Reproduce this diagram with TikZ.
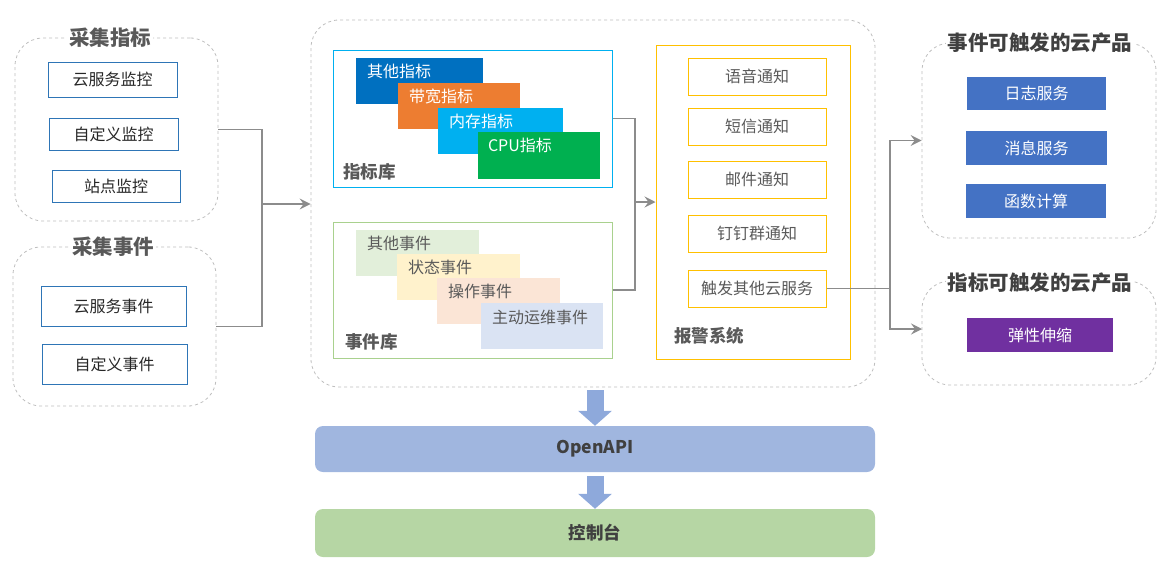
\documentclass[tikz,border=0pt]{standalone}
\usepackage{fontspec}
\setmainfont{Noto Sans CJK SC}
\usetikzlibrary{arrows.meta}
\definecolor{pgray}{HTML}{BFBFBF}
\definecolor{cgray}{HTML}{8C8C8C}
\definecolor{tgray}{HTML}{595959}
\definecolor{tdark}{HTML}{404040}
\definecolor{bblue}{HTML}{2E75B6}
\definecolor{cdblue}{HTML}{0070C0}
\definecolor{corange}{HTML}{ED7D31}
\definecolor{ccyan}{HTML}{00B0F0}
\definecolor{cgreen}{HTML}{00B050}
\definecolor{lgreen}{HTML}{A9D18E}
\definecolor{e1}{HTML}{E2EFDA}
\definecolor{e2}{HTML}{FFF2CC}
\definecolor{e3}{HTML}{FBE5D6}
\definecolor{e4}{HTML}{DAE3F3}
\definecolor{cyell}{HTML}{FFC000}
\definecolor{pblue}{HTML}{4472C4}
\definecolor{ppurp}{HTML}{7030A0}
\definecolor{apiblue}{HTML}{A0B6DF}
\definecolor{congreen}{HTML}{B6D6A4}
\definecolor{fatblue}{HTML}{8EA9DB}
\begin{document}
\begin{tikzpicture}[x=1pt,y=-1pt,
  panel/.style={draw=pgray, dashed, line width=0.8pt, rounded corners=28pt, inner sep=0pt},
  ptitle/.style={fill=white, inner sep=2pt, font=\bfseries\fontsize{20.5}{22}\selectfont, text=tgray},
  rtitle/.style={fill=white, inner sep=2pt, font=\bfseries\fontsize{20.5}{22}\selectfont, text=tdark},
  srcbox/.style={draw=bblue, line width=1pt, inner sep=0pt, font=\fontsize{16}{18}\selectfont, text=black!85},
  libbox/.style={line width=1pt, inner sep=0pt},
  layer/.style={inner sep=0pt},
  lyrtxt/.style={anchor=west, inner sep=0pt, font=\fontsize{16}{18}\selectfont},
  liblabel/.style={anchor=west, inner sep=0pt, font=\bfseries\fontsize{17.5}{19}\selectfont, text=tgray},
  notebox/.style={draw=cyell, line width=1pt, inner sep=0pt, minimum width=138, minimum height=37, font=\fontsize{16}{18}\selectfont, text=tgray},
  prodbox/.style={inner sep=0pt, font=\fontsize{16}{18}\selectfont, text=white},
  conn/.style={draw=cgray, line width=1.3pt},
  arr/.style={conn, -{Stealth[length=11pt,width=11pt,inset=4pt]}},
  fatarrow/.style={draw=fatblue, line width=17pt, -{Triangle[length=15pt,width=33pt]}},
  bar/.style={rounded corners=8pt, inner sep=0pt, minimum width=560, font=\bfseries\fontsize{17.5}{19}\selectfont, text=tdark}
]
\useasboundingbox (0,0) rectangle (1173,579);

% ---------- left panels ----------
\node[panel, minimum width=203, minimum height=183] (p1) at (116.5,129.5) {};
\node[ptitle] (p1t) at (110,38) {采集指标};
\node[srcbox, minimum width=129, minimum height=35] (s1) at (112.5,79.5) {云服务监控};
\node[srcbox, minimum width=129, minimum height=32] (s2) at (113.5,134) {自定义监控};
\node[srcbox, minimum width=128, minimum height=32] (s3) at (116,186) {站点监控};

\node[panel, minimum width=203, minimum height=159] (p2) at (114.5,326.5) {};
\node[ptitle] (p2t) at (113,247) {采集事件};
\node[srcbox, minimum width=145, minimum height=40] (s4) at (113.5,306) {云服务事件};
\node[srcbox, minimum width=145, minimum height=40] (s5) at (114.5,364) {自定义事件};

% ---------- center panel ----------
\node[panel, minimum width=564, minimum height=367] (cp) at (593,203.5) {};

\node[libbox, draw=ccyan, minimum width=279, minimum height=137] (mlib) at (472.5,118.5) {};
\node[layer, fill=cdblue, minimum width=127, minimum height=46] (m1) at (419.5,81) {};
\node[lyrtxt, text=white] (m1t) at ([shift={(11,14)}]m1.north west) {其他指标};
\node[layer, fill=corange, minimum width=122, minimum height=46] (m2) at (459,106) {};
\node[lyrtxt, text=white] (m2t) at ([shift={(11,14)}]m2.north west) {带宽指标};
\node[layer, fill=ccyan, minimum width=125, minimum height=46] (m3) at (500.5,131) {};
\node[lyrtxt, text=white] (m3t) at ([shift={(11,14)}]m3.north west) {内存指标};
\node[layer, fill=cgreen, minimum width=122, minimum height=47] (m4) at (539,155.5) {};
\node[lyrtxt, text=white] (m4t) at ([shift={(10,14)}]m4.north west) {CPU指标};
\node[liblabel] (mlab) at (343,172) {指标库};

\node[libbox, draw=lgreen, minimum width=279, minimum height=136] (elib) at (472.5,290) {};
\node[layer, fill=e1, minimum width=123, minimum height=46] (v1) at (417.5,253) {};
\node[lyrtxt, text=tgray] (v1t) at ([shift={(11,14)}]v1.north west) {其他事件};
\node[layer, fill=e2, minimum width=123, minimum height=46] (v2) at (458.5,277) {};
\node[lyrtxt, text=tgray] (v2t) at ([shift={(11,14)}]v2.north west) {状态事件};
\node[layer, fill=e3, minimum width=123, minimum height=46] (v3) at (498.5,301) {};
\node[lyrtxt, text=tgray] (v3t) at ([shift={(11,14)}]v3.north west) {操作事件};
\node[layer, fill=e4, minimum width=122, minimum height=46] (v4) at (542,326) {};
\node[lyrtxt, text=tgray] (v4t) at ([shift={(11,15)}]v4.north west) {主动运维事件};
\node[liblabel] (elab) at (345,342) {事件库};

\node[libbox, draw=cyell, minimum width=194, minimum height=314] (alarm) at (753,202) {};
\node[notebox] (n1) at (757,76.5) {语音通知};
\node[notebox] (n2) at (757,126.5) {短信通知};
\node[notebox] (n3) at (757,179.5) {邮件通知};
\node[notebox] (n4) at (757,233.5) {钉钉群通知};
\node[notebox] (n5) at (757,288.5) {触发其他云服务};
\node[liblabel] (alab) at (674,336) {报警系统};

% ---------- right panels ----------
\node[panel, minimum width=234, minimum height=195] (r1) at (1039,140.5) {};
\node[rtitle] (r1t) at (1040,43) {事件可触发的云产品};
\node[prodbox, fill=pblue, minimum width=139, minimum height=33] (q1) at (1036.5,93.5) {日志服务};
\node[prodbox, fill=pblue, minimum width=141, minimum height=34] (q2) at (1036.5,148) {消息服务};
\node[prodbox, fill=pblue, minimum width=140, minimum height=34] (q3) at (1036,201) {函数计算};

\node[panel, minimum width=234, minimum height=104] (r2) at (1039,333) {};
\node[rtitle] (r2t) at (1040,283) {指标可触发的云产品};
\node[prodbox, fill=ppurp, minimum width=146, minimum height=34] (q4) at (1040,335) {弹性伸缩};

% ---------- bottom ----------
\node[bar, fill=apiblue, minimum height=46] (api) at (595,449) {OpenAPI};
\node[bar, fill=congreen, minimum height=48] (con) at (595,533) {控制台};
\draw[fatarrow, shorten <=3pt] (cp.south -| api.north) -- (api.north);
\draw[fatarrow, shorten <=4pt] (api.south) -- (con.north);

% ---------- connectors ----------
\coordinate (jL) at (262,204);
\draw[conn] (p1.east) -| (jL);
\draw[conn] (p2.east) -| (jL);
\draw[arr] (jL) -- (cp.west |- jL);

\coordinate (jC) at (635,202);
\draw[conn] (mlib.east) -| (jC);
\draw[conn] (elib.east) -| (jC);
\draw[arr] (jC) -- (alarm.west);

\coordinate (jR) at (890,288.5);
\draw[conn] (n5.east) -- (jR);
\draw[arr] (jR) |- (r1.west);
\coordinate (r2in) at (922,329);
\draw[arr] (jR) |- (r2in);
\end{tikzpicture}
\end{document}
